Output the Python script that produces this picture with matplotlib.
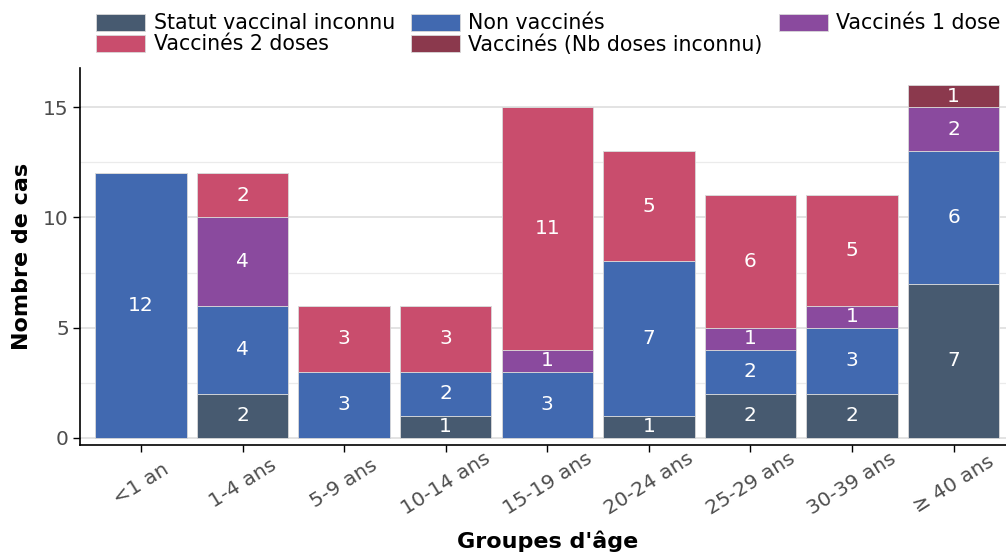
import numpy as np
import matplotlib
matplotlib.use("Agg")
import matplotlib.pyplot as plt
from matplotlib.patches import Patch

age_groups = ["<1 an", "1-4 ans", "5-9 ans", "10-14 ans", "15-19 ans",
              "20-24 ans", "25-29 ans", "30-39 ans", "≥ 40 ans"]

# stacked bottom -> top
statut_inconnu = [0, 2, 0, 1, 0, 1, 2, 2, 7]
non_vaccines   = [12, 4, 3, 2, 3, 7, 2, 3, 6]
vaccines_1     = [0, 4, 0, 0, 1, 0, 1, 1, 2]
vaccines_2     = [0, 2, 3, 3, 11, 5, 6, 5, 0]
vaccines_nb    = [0, 0, 0, 0, 0, 0, 0, 0, 1]

series = [
    ("Statut vaccinal inconnu",      statut_inconnu, "#475a70"),
    ("Non vaccinés",                 non_vaccines,   "#4169b0"),
    ("Vaccinés 1 dose",              vaccines_1,     "#8a4a9e"),
    ("Vaccinés 2 doses",             vaccines_2,     "#c94d6d"),
    ("Vaccinés (Nb doses inconnu)",  vaccines_nb,    "#8b394d"),
]

fig = plt.figure(figsize=(10.06, 5.53), dpi=100)
ax = fig.add_axes([0.0795, 0.1953, 0.929, 0.6817])

x = np.arange(len(age_groups))
bottom = np.zeros(len(age_groups))
for name, vals, col in series:
    vals = np.array(vals, dtype=float)
    ax.bar(x, vals, bottom=bottom, width=0.9, color=col,
           edgecolor="#d9d9d9", linewidth=0.6, zorder=3)
    for xi, v, b in zip(x, vals, bottom):
        if v > 0:
            ax.text(xi, b + v / 2, f"{int(v)}", ha="center", va="center",
                    color="white", fontsize=14.5, zorder=4)
    bottom += vals

# grid: major + minor horizontal lines
for yv in [0, 5, 10, 15]:
    ax.axhline(yv, color="#e0e0e0", linewidth=1.3, zorder=1)
for yv in [2.5, 7.5, 12.5]:
    ax.axhline(yv, color="#ebebeb", linewidth=0.9, zorder=1)

ax.set_xlim(-0.6, 8.6)
ax.set_ylim(-0.32, 16.77)
ax.set_yticks([0, 5, 10, 15])
ax.set_xticks(x)
ax.set_xticklabels(age_groups, rotation=32, ha="center", va="center",
                   rotation_mode="anchor")
ax.tick_params(axis="both", colors="black", labelcolor="#4d4d4d",
               labelsize=14.5, length=5, width=1)
ax.tick_params(axis="x", pad=23)
ax.tick_params(axis="y", pad=3)
for s in ["top", "right"]:
    ax.spines[s].set_visible(False)
for s in ["left", "bottom"]:
    ax.spines[s].set_linewidth(1.2)

ax.set_ylabel("Nombre de cas", fontsize=16, fontweight="bold", labelpad=8)
ax.set_xlabel("Groupes d'âge", fontsize=16, fontweight="bold", va="center")
ax.xaxis.set_label_coords(0.5, -0.255)

order = [0, 3, 1, 4, 2]
handles = [Patch(facecolor=series[i][2], edgecolor="#d9d9d9", linewidth=0.6)
           for i in order]
labels = [series[i][0] for i in order]
fig.legend(handles, labels, ncol=3, loc="upper left",
           bbox_to_anchor=(0.0954, 0.976), frameon=False, fontsize=14.8,
           handlelength=2.4, handleheight=0.88, handletextpad=0.4,
           columnspacing=0.78, labelspacing=0.05, borderaxespad=0,
           borderpad=0)

fig.savefig("out.png", dpi=100)
